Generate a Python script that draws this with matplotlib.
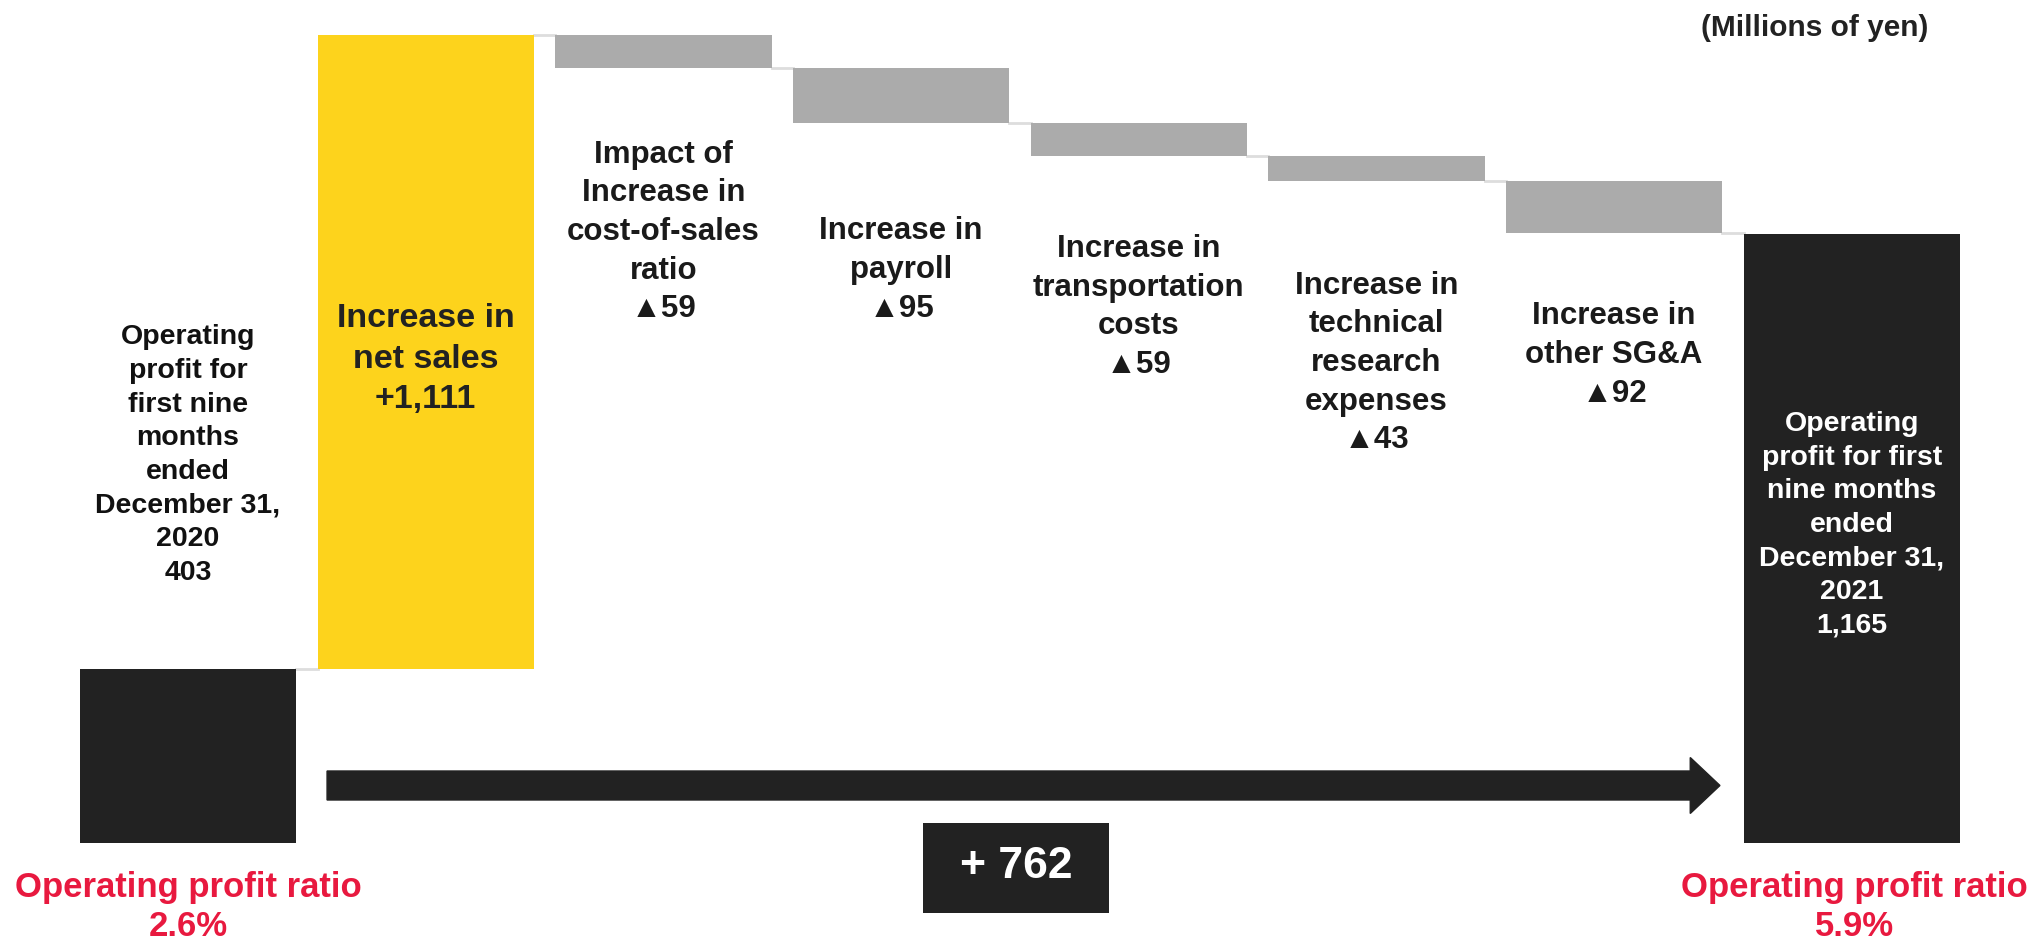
import numpy as np
import matplotlib
matplotlib.use('Agg')
import matplotlib.pyplot as plt
import matplotlib.patches as mpatches

# ── Fonts ─────────────────────────────────────────────────────────────────────
FAM = ['Liberation Sans', 'DejaVu Sans']
plt.rcParams['font.family'] = FAM

# ── Data (millions of yen) ────────────────────────────────────────────────────
labels = [
    'Operating\nprofit for\nfirst nine\nmonths\nended\nDecember 31,\n2020\n403',
    'Increase in\nnet sales\n+1,111',
    'Impact of\nIncrease in\ncost-of-sales\nratio\n▲59',
    'Increase in\npayroll\n▲95',
    'Increase in\ntransportation\ncosts\n▲59',
    'Increase in\ntechnical\nresearch\nexpenses\n▲43',
    'Increase in\nother SG&A\n▲92',
    'Operating\nprofit for first\nnine months\nended\nDecember 31,\n2021\n1,165',
]
start_value = 403
changes = [1111, -59, -95, -59, -43, -92]
end_value = 1165
total_change = 762
ratio_start = '2.6%'
ratio_end = '5.9%'

# ── Colours ───────────────────────────────────────────────────────────────────
col_total = '#222222'
col_up = '#FDD31C'
col_down = '#ABABAB'
col_conn = '#DDDDDD'
col_red = '#E8193F'

# ── Waterfall geometry from the data ──────────────────────────────────────────
n = len(labels)
x = np.arange(n)
bottoms = [0]
heights = [start_value]
level = start_value
for c in changes:
    lo = level if c > 0 else level + c
    bottoms.append(lo)
    heights.append(abs(c))
    level += c
bottoms.append(0)
heights.append(end_value)
colors = [col_total] + [col_up if c > 0 else col_down for c in changes] + [col_total]

# ── Figure ────────────────────────────────────────────────────────────────────
FW, FH = 2033, 941
fig = plt.figure(figsize=(FW / 100, FH / 100), dpi=100)
ax = fig.add_axes([0, 1 - 843 / FH, 1, 843 / FH])
ax.set_xlim(-0.791, 7.762)
ax.set_ylim(98, 1575)
ax.axis('off')

W = 0.91
ax.bar(x, heights, bottom=bottoms, width=W, color=colors, zorder=2)

# connectors between bars
level = start_value
for i in range(n - 1):
    y_conn = level
    if i < len(changes):
        level += changes[i]
    ax.plot([x[i] + W / 2, x[i + 1] - W / 2], [y_conn, y_conn],
            color=col_conn, linewidth=2, zorder=1)


def ypix(py):
    # figure pixel row (from top) -> data value
    return ax.transData.inverted().transform(
        fig.transFigure.transform((0, 1 - py / FH)))[1]


def xpix(px):
    return ax.transData.inverted().transform(
        fig.transFigure.transform((px / FW, 0)))[0]


LS = 1.38
ax.text(x[0], ypix(455), labels[0], ha='center', va='center', fontsize=20.5,
        fontweight='bold', color='#111111', linespacing=LS)
ax.text(x[1], ypix(359), labels[1], ha='center', va='center', fontsize=24.5,
        fontweight='bold', color='#222222', linespacing=LS)
gray_centers = [232, 270, 307, 363, 355]
for i, cy in zip(range(2, 7), gray_centers):
    ax.text(x[i], ypix(cy), labels[i], ha='center', va='center', fontsize=22.5,
            fontweight='bold', color='#1a1a1a', linespacing=LS)
ax.text(x[7], ypix(525), labels[7], ha='center', va='center', fontsize=20.5,
        fontweight='bold', color='white', linespacing=LS, zorder=3)

# total change arrow
arrow_y = ypix(785.5)
shaft = ypix(771) - ypix(800)
head = ypix(757) - ypix(813)
x0 = x[0] + W / 2 + 0.13
x1 = x[-1] - W / 2 - 0.10
ax.add_patch(mpatches.FancyArrow(x0, arrow_y, x1 - x0, 0, width=shaft,
                                 head_width=head, head_length=0.125,
                                 length_includes_head=True, color=col_total,
                                 zorder=2, clip_on=False))

# +762 box
bx0, bx1, by0, by1 = xpix(923), xpix(1109), ypix(913), ypix(823)
ax.add_patch(mpatches.Rectangle((bx0, by0), bx1 - bx0, by1 - by0,
                                facecolor=col_total, edgecolor='none',
                                clip_on=False, zorder=3))
ax.text((bx0 + bx1) / 2, ypix(866), f'+ {total_change}',
        ha='center', va='center', fontsize=32, fontweight='bold', color='white',
        clip_on=False, zorder=4)

# operating profit ratio
for xi, r in [(x[0], ratio_start), (x[-1] + 0.01, ratio_end)]:
    ax.text(xi, ypix(907), f'Operating profit ratio\n{r}', ha='center',
            va='center', fontsize=25, fontweight='bold', color=col_red,
            linespacing=1.22, clip_on=False)

fig.text(1815 / FW, 1 - 28 / FH, '(Millions of yen)', ha='center',
         va='center', fontsize=21.5, fontweight='bold', color='#222222')

plt.savefig('out.png', dpi=100)
print("Saved.")
